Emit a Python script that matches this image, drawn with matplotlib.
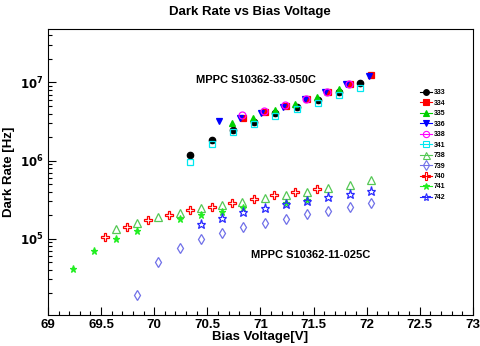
import numpy as np
import matplotlib
matplotlib.use('Agg')
import matplotlib.pyplot as plt
from matplotlib.lines import Line2D
from matplotlib.ticker import LogLocator, MultipleLocator, FixedLocator

plt.rcParams['font.family'] = ['Liberation Sans', 'DejaVu Sans']
plt.rcParams['font.weight'] = 'bold'

# upper group : MPPC S10362-33-050C
v333 = [70.34, 70.54, 70.74, 70.94, 71.14, 71.34, 71.54, 71.74, 71.94]
r333 = [1.19e6, 1.84e6, 2.43e6, 3.1e6, 4.05e6, 4.92e6, 6.0e6, 7.5e6, 9.8e6]
v334 = [70.84, 71.04, 71.24, 71.44, 71.64, 71.84, 72.04]
r334 = [3.47e6, 4.2e6, 5.0e6, 6.12e6, 7.53e6, 9.55e6, 1.23e7]
v335 = [70.73, 70.93, 71.14, 71.33, 71.53, 71.74]
r335 = [3.07e6, 3.5e6, 4.38e6, 5.33e6, 6.6e6, 8.3e6]
v336 = [70.61, 70.81, 71.01, 71.21, 71.42, 71.61, 71.81, 72.02]
r336 = [3.2e6, 3.52e6, 4.1e6, 4.92e6, 6.18e6, 7.53e6, 9.55e6, 1.21e7]
v338 = [70.83, 71.03, 71.23, 71.43, 71.63, 71.83]
r338 = [3.82e6, 4.25e6, 5.1e6, 6.15e6, 7.6e6, 9.6e6]
v341 = [70.34, 70.54, 70.74, 70.94, 71.14, 71.34, 71.54, 71.74, 71.94]
r341 = [9.5e5, 1.64e6, 2.29e6, 2.93e6, 3.74e6, 4.64e6, 5.54e6, 6.95e6, 8.47e6]

# lower group : MPPC S10362-11-025C
v738 = [69.64, 69.84, 70.04, 70.24, 70.44, 70.64, 70.83, 71.04, 71.24, 71.44, 71.64, 71.84, 72.04]
r738 = [1.32e5, 1.57e5, 1.88e5, 2.15e5, 2.48e5, 2.73e5, 2.95e5, 3.33e5, 3.6e5, 4.0e5, 4.51e5, 4.92e5, 5.66e5]
v739 = [69.84, 70.04, 70.24, 70.44, 70.64, 70.84, 71.04, 71.24, 71.44, 71.64, 71.84, 72.04]
r739 = [1.9e4, 4.98e4, 7.5e4, 9.8e4, 1.17e5, 1.4e5, 1.6e5, 1.79e5, 2.06e5, 2.27e5, 2.55e5, 2.84e5]
v740 = [69.54, 69.74, 69.94, 70.14, 70.34, 70.54, 70.73, 70.94, 71.13, 71.33, 71.53]
r740 = [1.06e5, 1.4e5, 1.74e5, 2.03e5, 2.33e5, 2.57e5, 2.9e5, 3.26e5, 3.6e5, 3.98e5, 4.37e5]
v741 = [69.24, 69.43, 69.64, 69.84, 70.24, 70.44, 70.64, 70.84, 71.24, 71.44]
r741 = [4.05e4, 7.0e4, 9.8e4, 1.26e5, 1.77e5, 2.0e5, 2.2e5, 2.43e5, 2.84e5, 3.13e5]
v742 = [70.44, 70.64, 70.84, 71.04, 71.24, 71.44, 71.64, 71.84, 72.04]
r742 = [1.54e5, 1.86e5, 2.18e5, 2.5e5, 2.79e5, 3.07e5, 3.4e5, 3.74e5, 4.12e5]

labels = ['333', '334', '335', '336', '338', '341', '738', '739', '740', '741', '742']
xs = [v333, v334, v335, v336, v338, v341, v738, v739, v740, v741, v742]
ys = [r333, r334, r335, r336, r338, r341, r738, r739, r740, r741, r742]
# (marker, color, filled, size)
styles = [('o', 'black', True, 4.6),
          ('s', 'red', True, 4.6),
          ('^', '#00d000', True, 4.8),
          ('v', 'blue', True, 4.8),
          ('o', '#ff00ff', False, 5),
          ('s', '#00e8f0', False, 5),
          ('^', '#55c855', False, 5.6),
          ('d', '#7070e8', False, 5.6),
          ('P', 'red', False, 5.8),
          ('*', '#22ee22', True, 5.2),
          ('*', '#2a2aff', False, 6.5)]

fig = plt.figure(figsize=(4.81, 3.46), dpi=100)
ax = fig.add_axes([0.0998, 0.0896, 0.8832, 0.8257])

handles = []
for x, y, lab, (m, c, filled, ms) in zip(xs, ys, labels, styles):
    fc = c if filled else 'none'
    ax.plot(x, y, ls='none', marker=m, color=c, mfc=fc, mec=c, ms=ms, mew=0.9)
    handles.append(Line2D([], [], ls='-', lw=0.8, color=c, marker=m, mfc=fc, mec=c,
                          ms=ms * 0.9, mew=0.8, label=lab))

ax.set_yscale('log')
ax.set_xlim(69, 73)
ax.set_ylim(1.05e4, 4.8e7)

ax.xaxis.set_minor_locator(MultipleLocator(0.1))
ax.set_xticks([69, 69.5, 70, 70.5, 71, 71.5, 72, 72.5, 73])
ax.set_xticklabels(['69', '69.5', '70', '70.5', '71', '71.5', '72', '72.5', '73'])
ax.yaxis.set_major_locator(FixedLocator([1e5, 1e6, 1e7]))
ax.yaxis.set_minor_locator(LogLocator(base=10, subs=np.arange(2, 10), numticks=20))
ax.set_yticklabels([r'$\mathbf{10^{5}}$', r'$\mathbf{10^{6}}$', r'$\mathbf{10^{7}}$'])
ax.yaxis.set_minor_formatter(plt.NullFormatter())

ax.tick_params(which='both', direction='in', top=False, right=False, width=0.8)
ax.tick_params(axis='x', which='major', labelsize=9.5)
ax.tick_params(axis='y', which='major', labelsize=8.5)
ax.tick_params(which='major', length=6, pad=3)
ax.tick_params(which='minor', length=3)
for s in ax.spines.values():
    s.set_linewidth(0.8)

ax.set_xlabel('Bias Voltage[V]', fontsize=9.5, fontweight='bold', labelpad=0)
ax.set_ylabel('Dark Rate [Hz]', fontsize=9.5, fontweight='bold')
ax.yaxis.set_label_coords(-0.078, 0.5)
fig.text(0.52, 0.965, 'Dark Rate vs Bias Voltage', ha='center', va='center',
         fontsize=9.5, fontweight='bold')

ax.text(70.96, 1.08e7, 'MPPC S10362-33-050C', ha='center', va='center', fontsize=8, fontweight='bold')
ax.text(71.475, 6.2e4, 'MPPC S10362-11-025C', ha='center', va='center', fontsize=8, fontweight='bold')

ax.legend(handles=handles, loc='upper left', bbox_to_anchor=(0.87, 0.80), frameon=False,
          prop={'size': 5, 'weight': 'bold'}, handlelength=1.7, handletextpad=0.2,
          labelspacing=0.5, borderaxespad=0)

fig.savefig('out.png', dpi=100)
